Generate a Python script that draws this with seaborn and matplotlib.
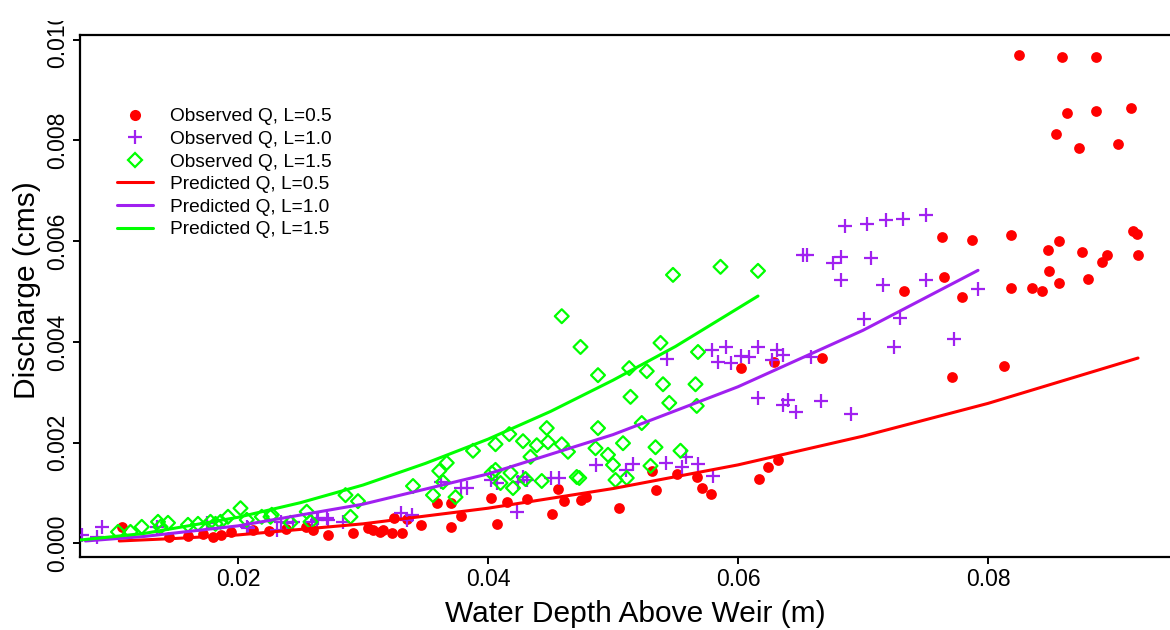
import matplotlib
matplotlib.use("Agg")
import matplotlib.pyplot as plt
from matplotlib.lines import Line2D
from matplotlib.transforms import Bbox
import seaborn as sns

# ---------------- data ----------------
red_h = [0.0825, 0.0859, 0.0886, 0.0863, 0.0886, 0.0914, 0.0854, 0.0873, 0.0904,
         0.0763, 0.0787, 0.0818, 0.0848, 0.0857, 0.0875, 0.0916, 0.0919, 0.0895,
         0.0891, 0.0920, 0.0849, 0.0880, 0.0857, 0.0818, 0.0835, 0.0843, 0.0765,
         0.0733, 0.0779, 0.0667, 0.0813, 0.0771, 0.0602, 0.0629,
         0.0531, 0.0534, 0.0505, 0.0551, 0.0567, 0.0571, 0.0578, 0.0617, 0.0624, 0.0632,
         0.0331, 0.0346, 0.0359, 0.0370, 0.0378, 0.0370, 0.0402, 0.0407, 0.0415,
         0.0431, 0.0456, 0.0451, 0.0461, 0.0474, 0.0478, 0.0335, 0.0316, 0.0323,
         0.0272, 0.0292, 0.0304, 0.0308, 0.0314, 0.0325, 0.0260, 0.0254,
         0.0107, 0.0180, 0.0186, 0.0194, 0.0212, 0.0145, 0.0160, 0.0172, 0.0225, 0.0238]
red_q = [0.00969, 0.00965, 0.00965, 0.00854, 0.00858, 0.00864, 0.00813, 0.00785, 0.00793,
         0.00608, 0.00602, 0.00612, 0.00582, 0.00600, 0.00578, 0.00620, 0.00614, 0.00572,
         0.00558, 0.00572, 0.00541, 0.00525, 0.00517, 0.00507, 0.00507, 0.00501, 0.00529,
         0.00501, 0.00489, 0.00368, 0.00352, 0.00330, 0.00348, 0.00360,
         0.00144, 0.00106, 0.00070, 0.00138, 0.00132, 0.00110, 0.00098, 0.00128, 0.00152, 0.00166,
         0.00021, 0.00037, 0.00080, 0.00080, 0.00055, 0.00033, 0.00090, 0.00039, 0.00082,
         0.00088, 0.00108, 0.00059, 0.00084, 0.00086, 0.00092, 0.00048, 0.00027, 0.00021,
         0.00017, 0.00021, 0.00031, 0.00027, 0.00023, 0.00051, 0.00027, 0.00033,
         0.00033, 0.00013, 0.00017, 0.00023, 0.00027, 0.00012, 0.00015, 0.00018, 0.00025, 0.00028]

purple_h = [0.0686, 0.0703, 0.0718, 0.0732, 0.0750, 0.0652, 0.0655, 0.0682, 0.0676,
            0.0706, 0.0682, 0.0716, 0.0750, 0.0792, 0.0701, 0.0730, 0.0773, 0.0725,
            0.0658, 0.0543, 0.0579, 0.0590, 0.0584, 0.0594, 0.0602, 0.0609, 0.0616,
            0.0631, 0.0627, 0.0636, 0.0616, 0.0640, 0.0636, 0.0646, 0.0666, 0.0690,
            0.0486, 0.0510, 0.0516, 0.0542, 0.0558, 0.0555, 0.0568, 0.0580, 0.0423,
            0.0450, 0.0457, 0.0428, 0.0424, 0.0431, 0.0402, 0.0407, 0.0378, 0.0383,
            0.0362, 0.0330, 0.0335, 0.0339, 0.0284, 0.0271, 0.0263, 0.0259, 0.0244,
            0.0231, 0.0207, 0.0075, 0.0091, 0.0087, 0.0135, 0.0175, 0.0208, 0.0234,
            0.0239, 0.0264, 0.0272]
purple_q = [0.00630, 0.00634, 0.00642, 0.00644, 0.00652, 0.00572, 0.00572, 0.00568, 0.00556,
            0.00566, 0.00523, 0.00513, 0.00523, 0.00505, 0.00445, 0.00447, 0.00406, 0.00390,
            0.00370, 0.00366, 0.00384, 0.00390, 0.00360, 0.00358, 0.00372, 0.00370, 0.00390,
            0.00384, 0.00364, 0.00374, 0.00289, 0.00285, 0.00275, 0.00261, 0.00283, 0.00257,
            0.00156, 0.00146, 0.00158, 0.00160, 0.00172, 0.00152, 0.00158, 0.00134, 0.00062,
            0.00130, 0.00130, 0.00132, 0.00122, 0.00126, 0.00126, 0.00120, 0.00110, 0.00110,
            0.00122, 0.00060, 0.00047, 0.00057, 0.00043, 0.00051, 0.00047, 0.00043, 0.00043,
            0.00027, 0.00033, 0.00017, 0.00033, 0.00013, 0.00033, 0.00041, 0.00031, 0.00043,
            0.00041, 0.00051, 0.00047]

green_h = [0.0548, 0.0586, 0.0616, 0.0459, 0.0474, 0.0538, 0.0568, 0.0488, 0.0513,
           0.0527, 0.0540, 0.0566, 0.0514, 0.0545, 0.0567, 0.0523, 0.0488, 0.0447,
           0.0508, 0.0534, 0.0486, 0.0459, 0.0464, 0.0448, 0.0439, 0.0428, 0.0417,
           0.0406, 0.0388, 0.0496, 0.0500, 0.0554, 0.0530, 0.0434, 0.0367, 0.0361,
           0.0364, 0.0340, 0.0356, 0.0374, 0.0406, 0.0403, 0.0410, 0.0418, 0.0420,
           0.0430, 0.0443, 0.0471, 0.0473, 0.0502, 0.0511, 0.0202, 0.0207, 0.0226,
           0.0219, 0.0242, 0.0255, 0.0258, 0.0286, 0.0296, 0.0290, 0.0104, 0.0114,
           0.0123, 0.0136, 0.0138, 0.0144, 0.0160, 0.0168, 0.0178, 0.0182, 0.0186,
           0.0192, 0.0227]
green_q = [0.00533, 0.00549, 0.00541, 0.00451, 0.00390, 0.00398, 0.00380, 0.00334, 0.00348,
           0.00342, 0.00316, 0.00316, 0.00291, 0.00279, 0.00273, 0.00239, 0.00229, 0.00229,
           0.00199, 0.00191, 0.00189, 0.00197, 0.00182, 0.00201, 0.00195, 0.00203, 0.00217,
           0.00197, 0.00184, 0.00176, 0.00156, 0.00184, 0.00154, 0.00172, 0.00160, 0.00144,
           0.00122, 0.00114, 0.00096, 0.00092, 0.00146, 0.00140, 0.00120, 0.00140, 0.00110,
           0.00128, 0.00124, 0.00132, 0.00130, 0.00126, 0.00130, 0.00070, 0.00047, 0.00053,
           0.00053, 0.00041, 0.00063, 0.00043, 0.00096, 0.00084, 0.00053, 0.00023, 0.00023,
           0.00033, 0.00043, 0.00033, 0.00041, 0.00037, 0.00039, 0.00043, 0.00039, 0.00043,
           0.00053, 0.00057]

pred_red_h = [0.0105, 0.015, 0.020, 0.030, 0.040, 0.050, 0.060, 0.070, 0.080, 0.092]
pred_red_q = [0.00005, 0.00010, 0.00017, 0.00039, 0.00070, 0.00109, 0.00156, 0.00213, 0.00278, 0.00368]
pred_purple_h = [0.0078, 0.0125, 0.020, 0.030, 0.040, 0.050, 0.060, 0.070, 0.0792]
pred_purple_q = [0.00005, 0.00014, 0.00035, 0.00078, 0.00138, 0.00216, 0.00311, 0.00423, 0.00542]
pred_green_h = [0.0074, 0.0125, 0.020, 0.025, 0.030, 0.035, 0.040, 0.045, 0.050, 0.055, 0.0616]
pred_green_q = [0.00007, 0.00020, 0.00052, 0.00081, 0.00116, 0.00159, 0.00207, 0.00262, 0.00324, 0.00391, 0.00491]

x_ticks = [0.02, 0.04, 0.06, 0.08]
x_tick_labels = ["0.02", "0.04", "0.06", "0.08"]
y_ticks = [0.000, 0.002, 0.004, 0.006, 0.008, 0.010]
y_tick_labels = ["0.000", "0.002", "0.004", "0.006", "0.008", "0.010"]

legend_labels = ["Observed Q, L=0.5", "Observed Q, L=1.0", "Observed Q, L=1.5",
                 "Predicted Q, L=0.5", "Predicted Q, L=1.0", "Predicted Q, L=1.5"]

RED = "#FF0000"
PURPLE = "#A020F0"
GREEN = "#00FF00"

# ---------------- plot ----------------
sns.set_style("ticks")
plt.rcParams["font.family"] = ["Liberation Sans", "DejaVu Sans"]
plt.rcParams["text.color"] = "black"
plt.rcParams["axes.labelcolor"] = "black"

fig = plt.figure(figsize=(11.7, 6.3), dpi=100)
ax = fig.add_axes([80 / 1170, 73 / 630, 1 - 80 / 1170, (557 - 35) / 630])

sns.scatterplot(x=red_h, y=red_q, color=RED, marker="o", s=60, linewidth=0, ax=ax, legend=False, zorder=3)
sns.scatterplot(x=purple_h, y=purple_q, color=PURPLE, marker="+", s=115, linewidth=1.6, ax=ax, legend=False, zorder=3)
sns.scatterplot(x=green_h, y=green_q, color=GREEN, marker="D", s=50, ax=ax, legend=False, zorder=3)
coll = ax.collections[-1]
coll.set_facecolor("none")
coll.set_edgecolor(GREEN)
coll.set_linewidth(1.6)

sns.lineplot(x=pred_red_h, y=pred_red_q, color=RED, linewidth=2.2, ax=ax, legend=False, zorder=4)
sns.lineplot(x=pred_purple_h, y=pred_purple_q, color=PURPLE, linewidth=2.2, ax=ax, legend=False, zorder=4)
sns.lineplot(x=pred_green_h, y=pred_green_q, color=GREEN, linewidth=2.2, ax=ax, legend=False, zorder=4)

ax.set_xlim(0.00736, 0.09456)
ax.set_ylim(-0.000268, 0.01009)

ax.set_xticks(x_ticks)
ax.set_xticklabels(x_tick_labels)
ax.set_yticks(y_ticks)
ax.set_yticklabels(y_tick_labels, rotation=90, va="center")

ax.tick_params(axis="both", direction="out", length=5, width=1.4, labelsize=16.5, colors="black", pad=3)
for side in ["left", "top", "bottom"]:
    ax.spines[side].set_linewidth(1.6)
    ax.spines[side].set_color("black")
ax.spines["right"].set_visible(False)

# the reference's top y tick label is cut by the image edge
top_lbl = ax.get_yticklabels()[-1]
top_lbl.set_clip_box(Bbox.from_extents(0, 0, 1170, 630 - 21))
top_lbl.set_clip_on(True)

ax.set_xlabel("Water Depth Above Weir (m)", fontsize=21.5, color="black")
ax.set_ylabel("Discharge (cms)", fontsize=21.5, color="black")
ax.xaxis.label.set_va("baseline")
ax.xaxis.set_label_coords((635 - 80) / 1090, (557 - 622) / 522)
ax.yaxis.label.set_va("baseline")
ax.yaxis.set_label_coords((35 - 80) / 1090, (557 - 290) / 522)

handles = [
    Line2D([], [], color=RED, marker="o", linestyle="none", markersize=8, markeredgewidth=0),
    Line2D([], [], color=PURPLE, marker="+", linestyle="none", markersize=10.5, markeredgewidth=1.6),
    Line2D([], [], color=GREEN, marker="D", linestyle="none", markersize=7, markerfacecolor="none",
           markeredgewidth=1.6),
    Line2D([], [], color=RED, linewidth=2.2),
    Line2D([], [], color=PURPLE, linewidth=2.2),
    Line2D([], [], color=GREEN, linewidth=2.2),
]
leg = ax.legend(handles, legend_labels, loc="upper left",
                bbox_to_anchor=((117 - 80) / 1090, (557 - 108) / 522),
                frameon=False, fontsize=13.8, handlelength=1.88, handletextpad=0.89,
                labelspacing=0.27, borderpad=0, borderaxespad=0)
for t in leg.get_texts():
    t.set_color("black")

fig.savefig("out.png", dpi=100)
